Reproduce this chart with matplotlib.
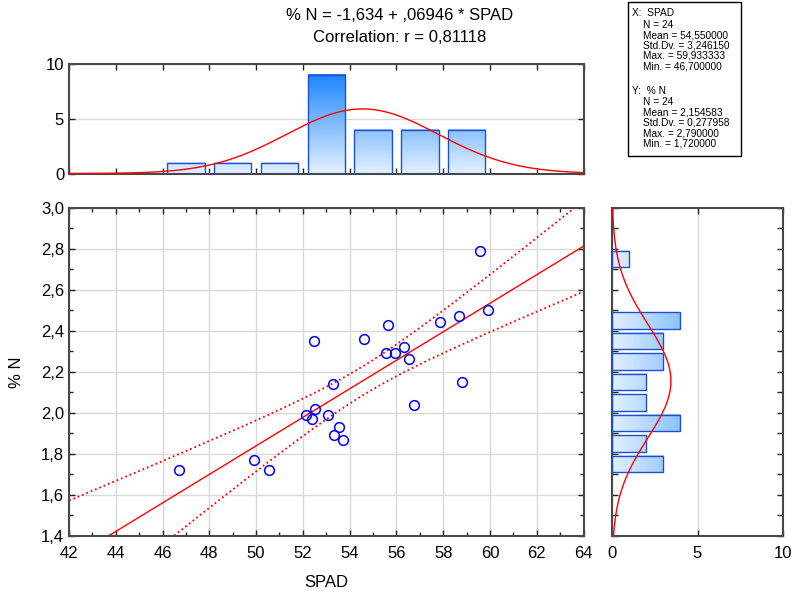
import numpy as np
import matplotlib
matplotlib.use("Agg")
import matplotlib.pyplot as plt
from matplotlib.colors import LinearSegmentedColormap, Normalize
from matplotlib.patches import Rectangle
from matplotlib.ticker import MultipleLocator, FuncFormatter

plt.rcParams['font.family'] = ['Liberation Sans', 'DejaVu Sans']

# ---- data ----
spad = [46.70, 49.92, 50.57, 52.13, 52.39, 52.53, 52.47, 53.07, 53.27, 53.54,
        53.34, 53.70, 54.62, 55.63, 55.56, 55.94, 56.34, 56.55, 56.77, 57.85,
        58.69, 58.82, 59.57, 59.93]
pct_n = [1.72, 1.77, 1.72, 1.99, 1.97, 2.02, 2.35, 1.99, 2.14, 1.93,
         1.89, 1.87, 2.36, 2.43, 2.29, 2.29, 2.32, 2.26, 2.04, 2.44,
         2.47, 2.15, 2.79, 2.50]

x_bin_left = [46, 48, 50, 52, 54, 56, 58]
x_counts = [1, 1, 1, 9, 4, 4, 4]
y_bin_low = [1.7, 1.8, 1.9, 2.0, 2.1, 2.2, 2.3, 2.4, 2.7]
y_counts = [3, 2, 4, 2, 2, 3, 3, 4, 1]

n_obs = 24
x_mean, x_sd = 54.550000, 3.246150
y_mean, y_sd = 2.154583, 0.277958
intercept, slope = -1.634, 0.06946

title1 = "% N = -1,634 + ,06946 * SPAD"
title2 = "Correlation: r = 0,81118"
stats_x = ["X:  SPAD", "N = 24", "Mean = 54,550000", "Std.Dv. = 3,246150",
           "Max. = 59,933333", "Min. = 46,700000"]
stats_y = ["Y:  % N", "N = 24", "Mean = 2,154583", "Std.Dv. = 0,277958",
           "Max. = 2,790000", "Min. = 1,720000"]

# ---- figure ----
W, H = 793, 593
fig = plt.figure(figsize=(W / 100, H / 100), dpi=100)

def px_axes(l, t, r, b):
    return fig.add_axes([l / W, 1 - b / H, (r - l) / W, (b - t) / H])

ax = px_axes(69, 207.5, 583.5, 536)
axt = px_axes(69, 64, 583.5, 173.5)
axr = px_axes(612, 207.5, 783, 536)

frame_col = '#484848'
grid_col = '#d8d8d8'
edge_col = '#1f4fcf'
cmap = LinearSegmentedColormap.from_list('b', ['#e2f0ff', '#1e86ff'])
norm = Normalize(0, 9)

def style(a):
    for s in a.spines.values():
        s.set_color(frame_col)
        s.set_linewidth(1.5)
    a.tick_params(which='both', direction='in', top=True, right=True,
                  color='#202020', labelsize=12)
    a.tick_params(which='major', length=4, width=1)
    a.tick_params(which='minor', length=3, width=1)

comma = FuncFormatter(lambda v, p: f"{v:.1f}".replace('.', ','))

# ---- main scatter ----
xs = np.array(spad)
ys = np.array(pct_n)
xx = np.linspace(42, 64, 200)
yy = intercept + slope * xx
res = ys - (intercept + slope * xs)
s_res = np.sqrt(np.sum(res ** 2) / (len(xs) - 2))
sxx = np.sum((xs - xs.mean()) ** 2)
t_crit = 2.0739
half = t_crit * s_res * np.sqrt(1 / len(xs) + (xx - xs.mean()) ** 2 / sxx)

ax.grid(True, which='major', color=grid_col, lw=1)
ax.set_axisbelow(True)
ax.plot(xx, yy, color='#ff0000', lw=1)
ax.plot(xx, yy + half, color='#ff0000', lw=1.3, ls=(0, (1, 1.6)))
ax.plot(xx, yy - half, color='#ff0000', lw=1.3, ls=(0, (1, 1.6)))
ax.plot(xs, ys, 'o', mfc='none', mec='#0000ff', ms=7, mew=1.1)
ax.set_xlim(42, 64)
ax.set_ylim(1.4, 3.0)
ax.xaxis.set_major_locator(MultipleLocator(2))
ax.xaxis.set_minor_locator(MultipleLocator(1))
ax.yaxis.set_major_locator(MultipleLocator(0.2))
ax.yaxis.set_minor_locator(MultipleLocator(0.1))
ax.yaxis.set_major_formatter(comma)
style(ax)
ax.tick_params(axis='x', pad=7)
ax.set_xlabel("SPAD", fontsize=12, labelpad=10)
ax.set_ylabel("% N", fontsize=12, labelpad=12)

# ---- top histogram ----
axt.grid(True, axis='y', color=grid_col, lw=1)
axt.set_axisbelow(True)
for left, c in zip(x_bin_left, x_counts):
    x0, x1 = left + 0.2, left + 1.8
    g = np.linspace(0, c, 100).reshape(-1, 1)
    axt.imshow(g, extent=(x0, x1, 0, c), origin='lower', cmap=cmap, norm=norm,
               aspect='auto', zorder=2)
    axt.add_patch(Rectangle((x0, 0), x1 - x0, c, fill=False, ec=edge_col, lw=1, zorder=3))
curve_t = n_obs * 2 * np.exp(-0.5 * ((xx - x_mean) / x_sd) ** 2) / (x_sd * np.sqrt(2 * np.pi))
axt.plot(xx, curve_t, color='#ff0000', lw=1, zorder=4)
axt.set_xlim(42, 64)
axt.set_ylim(0, 10)
axt.xaxis.set_major_locator(MultipleLocator(2))
axt.yaxis.set_major_locator(MultipleLocator(5))
style(axt)
axt.tick_params(axis='x', labelbottom=False)

# ---- right histogram ----
axr.grid(True, axis='x', color=grid_col, lw=1)
axr.set_axisbelow(True)
for low, c in zip(y_bin_low, y_counts):
    y0, y1 = low + 0.01, low + 0.09
    g = np.linspace(0, c, 100).reshape(1, -1)
    axr.imshow(g, extent=(0, c, y0, y1), origin='lower', cmap=cmap, norm=norm,
               aspect='auto', zorder=2)
    axr.add_patch(Rectangle((0, y0), c, y1 - y0, fill=False, ec=edge_col, lw=1, zorder=3))
yy2 = np.linspace(1.4, 3.0, 200)
curve_r = n_obs * 0.1 * np.exp(-0.5 * ((yy2 - y_mean) / y_sd) ** 2) / (y_sd * np.sqrt(2 * np.pi))
axr.plot(curve_r, yy2, color='#ff0000', lw=1, zorder=4)
axr.set_xlim(0, 10)
axr.set_ylim(1.4, 3.0)
axr.xaxis.set_major_locator(MultipleLocator(5))
axr.yaxis.set_major_locator(MultipleLocator(0.1))
style(axr)
axr.tick_params(axis='y', labelleft=False)
axr.tick_params(axis='x', pad=7)

# ---- titles ----
fig.text(400 / W, 1 - 15.5 / H, title1, ha='center', va='center', fontsize=12)
fig.text(400 / W, 1 - 38 / H, title2, ha='center', va='center', fontsize=12)

# ---- stats box ----
fig.patches.append(Rectangle((627.5 / W, 1 - 156 / H), (741 - 627.5) / W, 154 / H,
                             transform=fig.transFigure, fill=False, ec='black', lw=1))
ys_x = [12.7, 24.5, 35.0, 45.5, 56.0, 66.5]
ys_y = [91.0, 101.7, 112.2, 122.7, 133.2, 143.7]
for i, (t, yp) in enumerate(zip(stats_x, ys_x)):
    fig.text((631.5 if i == 0 else 643) / W, 1 - yp / H, t, fontsize=7.3, va='center')
for i, (t, yp) in enumerate(zip(stats_y, ys_y)):
    fig.text((631.5 if i == 0 else 643) / W, 1 - yp / H, t, fontsize=7.3, va='center')

fig.savefig("out.png", dpi=100)
